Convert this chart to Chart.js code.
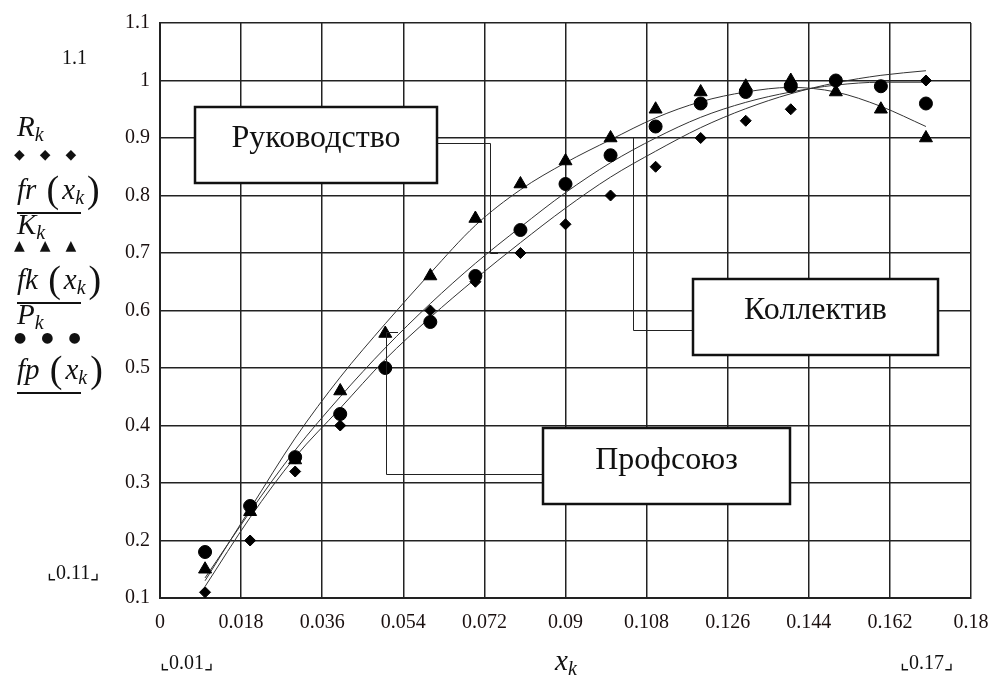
<!DOCTYPE html>
<html lang="ru">
<head>
    <meta charset="UTF-8">
    <title>Руководство, Коллектив, Профсоюз</title>
    <script src="https://cdn.jsdelivr.net/npm/chart.js"></script>
    <style>
        body {
            margin: 0;
            background-color: white;
            font-family: 'Liberation Serif', 'Times New Roman', serif;
            color: #111;
        }

        #wrap {
            position: relative;
            width: 1002px;
            height: 684px;
            overflow: hidden;
        }

        #chart {
            position: absolute;
            left: 0;
            top: 0;
        }

        .lbl {
            position: absolute;
            white-space: nowrap;
            line-height: 1;
        }

        .math {
            font-size: 29px;
            font-style: italic;
        }

        .math sub {
            font-size: 20px;
            vertical-align: -5px;
        }

        .par {
            font-style: normal;
            font-size: 38px;
            vertical-align: -3px;
            margin: 0 3px;
        }

        .marks {
            font-family: 'DejaVu Sans', sans-serif;
            font-size: 14px;
            letter-spacing: 15px;
        }

        .bar {
            position: absolute;
            height: 1.5px;
            width: 64px;
            background: #111;
        }

        .num {
            font-size: 20px;
        }
    </style>
</head>
<body>
    <div id="wrap">
        <canvas id="chart" width="1002" height="684"></canvas>

        <div class="lbl num" style="left:62px; top:47px;">1.1</div>

        <div class="lbl math" style="left:17px; top:112px;">R<sub>k</sub></div>
        <div class="lbl marks" style="left:14px; top:147px;">◆◆◆</div>
        <div class="lbl math" style="left:17px; top:170px;">fr <span class="par">(</span>x<sub>k</sub><span class="par">)</span></div>
        <div class="bar" style="left:17px; top:212px;"></div>

        <div class="lbl math" style="left:17px; top:210px;">K<sub>k</sub></div>
        <div class="lbl marks" style="left:14px; top:238px;">▲▲▲</div>
        <div class="lbl math" style="left:17px; top:260px;">fk <span class="par">(</span>x<sub>k</sub><span class="par">)</span></div>
        <div class="bar" style="left:17px; top:302px;"></div>

        <div class="lbl math" style="left:17px; top:300px;">P<sub>k</sub></div>
        <div class="lbl marks" style="left:14px; top:330px;">●●●</div>
        <div class="lbl math" style="left:17px; top:350px;">fp <span class="par">(</span>x<sub>k</sub><span class="par">)</span></div>
        <div class="bar" style="left:17px; top:392px;"></div>

        <div class="lbl num" style="left:47px; top:562px;">⌞0.11⌟</div>
        <div class="lbl num" style="left:160px; top:652px;">⌞0.01⌟</div>
        <div class="lbl math" style="left:555px; top:646px;">x<sub>k</sub></div>
        <div class="lbl num" style="left:900px; top:652px;">⌞0.17⌟</div>
    </div>

    <script>
        // x_k и исходные данные
        const xk = [0.01, 0.02, 0.03, 0.04, 0.05, 0.06, 0.07, 0.08, 0.09, 0.10, 0.11, 0.12, 0.13, 0.14, 0.15, 0.16, 0.17];
        const Rk = [0.11, 0.20, 0.32, 0.40, 0.50, 0.60, 0.65, 0.70, 0.75, 0.80, 0.85, 0.90, 0.93, 0.95, 1.00, 0.99, 1.00];
        const Kk = [0.15, 0.25, 0.34, 0.46, 0.56, 0.66, 0.76, 0.82, 0.86, 0.90, 0.95, 0.98, 0.99, 1.00, 0.98, 0.95, 0.90];
        const Pk = [0.18, 0.26, 0.345, 0.42, 0.50, 0.58, 0.66, 0.74, 0.82, 0.87, 0.92, 0.96, 0.98, 0.99, 1.00, 0.99, 0.96];

        // аппроксимирующие кривые fr, fk, fp
        const fr = [0.12, 0.24, 0.345, 0.43, 0.515, 0.588, 0.655, 0.718, 0.778, 0.832, 0.877, 0.918, 0.951, 0.977, 0.996, 1.009, 1.017];
        const fk = [0.13, 0.255, 0.378, 0.484, 0.577, 0.665, 0.748, 0.81, 0.857, 0.897, 0.935, 0.963, 0.98, 0.988, 0.98, 0.955, 0.92];
        const fp = [0.135, 0.25, 0.357, 0.45, 0.535, 0.612, 0.682, 0.745, 0.805, 0.857, 0.9, 0.936, 0.962, 0.98, 0.992, 0.997, 0.997];

        const xTicks = [0, 0.018, 0.036, 0.054, 0.072, 0.09, 0.108, 0.126, 0.144, 0.162, 0.18];
        const xTickLabels = ['0', '0.018', '0.036', '0.054', '0.072', '0.09', '0.108', '0.126', '0.144', '0.162', '0.18'];
        const yTicks = [0.1, 0.2, 0.3, 0.4, 0.5, 0.6, 0.7, 0.8, 0.9, 1.0, 1.1];
        const yTickLabels = ['0.1', '0.2', '0.3', '0.4', '0.5', '0.6', '0.7', '0.8', '0.9', '1', '1.1'];

        const pts = (ys) => xk.map((x, i) => ({ x: x, y: ys[i] }));

        // подписи-выноски
        const callouts = {
            id: 'callouts',
            afterDatasetsDraw(chart) {
                const ctx = chart.ctx;
                ctx.save();
                ctx.strokeStyle = '#222';
                ctx.lineWidth = 1;
                const leaders = [
                    [[437, 143.5], [490.5, 143.5], [490.5, 253.5], [498, 253.5]],
                    [[693, 330.5], [633.5, 330.5], [633.5, 137.5], [638, 137.5]],
                    [[543, 474.5], [386.5, 474.5], [386.5, 332.5], [398, 332.5]]
                ];
                leaders.forEach(l => {
                    ctx.beginPath();
                    ctx.moveTo(l[0][0], l[0][1]);
                    for (let i = 1; i < l.length; i++) ctx.lineTo(l[i][0], l[i][1]);
                    ctx.stroke();
                });

                const boxes = [
                    { text: 'Руководство', x: 195, y: 107, w: 242, h: 76, ty: 139 },
                    { text: 'Коллектив', x: 693, y: 279, w: 245, h: 76, ty: 311 },
                    { text: 'Профсоюз', x: 543, y: 428, w: 247, h: 76, ty: 461 }
                ];
                ctx.font = '32px "Liberation Serif", serif';
                ctx.textAlign = 'center';
                ctx.textBaseline = 'middle';
                boxes.forEach(b => {
                    ctx.fillStyle = '#fff';
                    ctx.fillRect(b.x, b.y, b.w, b.h);
                    ctx.lineWidth = 2.5;
                    ctx.strokeStyle = '#111';
                    ctx.strokeRect(b.x, b.y, b.w, b.h);
                    ctx.fillStyle = '#111';
                    ctx.fillText(b.text, b.x + b.w / 2, b.ty);
                });
                ctx.restore();
            }
        };

        const curve = (label, ys) => ({
            label: label,
            data: pts(ys),
            showLine: true,
            pointRadius: 0,
            borderColor: '#333',
            borderWidth: 1,
            cubicInterpolationMode: 'monotone',
            fill: false
        });

        const ctx = document.getElementById('chart').getContext('2d');
        const chart = new Chart(ctx, {
            type: 'scatter',
            data: {
                datasets: [
                    {
                        label: 'Rk',
                        data: pts(Rk),
                        pointStyle: 'rectRot',
                        pointRadius: 5.5,
                        backgroundColor: '#000',
                        borderColor: '#000',
                        borderWidth: 1,
                        showLine: false
                    },
                    {
                        label: 'Kk',
                        data: pts(Kk),
                        pointStyle: 'triangle',
                        pointRadius: 7.5,
                        backgroundColor: '#000',
                        borderColor: '#000',
                        borderWidth: 1,
                        showLine: false
                    },
                    {
                        label: 'Pk',
                        data: pts(Pk),
                        pointStyle: 'circle',
                        pointRadius: 6.5,
                        backgroundColor: '#000',
                        borderColor: '#000',
                        borderWidth: 1,
                        showLine: false
                    },
                    curve('fr', fr),
                    curve('fk', fk),
                    curve('fp', fp)
                ]
            },
            options: {
                responsive: false,
                animation: false,
                layout: {
                    padding: { left: 0, top: 23, right: 31, bottom: 0 }
                },
                plugins: {
                    legend: { display: false },
                    tooltip: { enabled: false }
                },
                scales: {
                    x: {
                        type: 'linear',
                        min: 0,
                        max: 0.18,
                        afterBuildTicks: (axis) => {
                            axis.ticks = xTicks.map(v => ({ value: v }));
                        },
                        afterFit: (axis) => { axis.height = 86; },
                        ticks: {
                            padding: 13,
                            maxRotation: 0,
                            autoSkip: false,
                            color: '#1a1010',
                            font: { family: '"Liberation Serif", serif', size: 20 },
                            callback: (v, i) => xTickLabels[i]
                        },
                        grid: {
                            color: '#222',
                            lineWidth: 1.5,
                            drawTicks: false
                        },
                        border: { color: '#222', width: 2 }
                    },
                    y: {
                        type: 'linear',
                        min: 0.1,
                        max: 1.1,
                        afterBuildTicks: (axis) => {
                            axis.ticks = yTicks.map(v => ({ value: v }));
                        },
                        afterFit: (axis) => { axis.width = 160; },
                        ticks: {
                            padding: 10,
                            autoSkip: false,
                            color: '#1a1010',
                            font: { family: '"Liberation Serif", serif', size: 20 },
                            callback: (v, i) => yTickLabels[i]
                        },
                        grid: {
                            color: '#222',
                            lineWidth: 1.5,
                            drawTicks: false
                        },
                        border: { color: '#222', width: 2 }
                    }
                }
            },
            plugins: [callouts]
        });
    </script>
</body>
</html>
